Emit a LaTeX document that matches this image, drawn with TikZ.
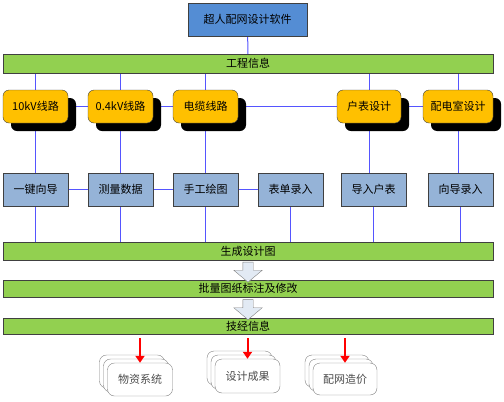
\documentclass[tikz,border=0pt]{standalone}
\usepackage{fontspec}
\newfontfamily\zhfont{Noto Sans CJK SC}
\usetikzlibrary{shapes.arrows, shadows, backgrounds, calc, arrows.meta}
\definecolor{topblue}{RGB}{84,141,212}
\definecolor{barg}{RGB}{146,208,80}
\definecolor{ylw}{RGB}{255,192,0}
\definecolor{lblue}{RGB}{149,179,215}
\definecolor{wire}{RGB}{85,85,255}
\definecolor{edgegray}{RGB}{64,64,64}
\definecolor{arrowfill}{RGB}{226,234,244}

\begin{document}
\begin{tikzpicture}[x=1pt,y=-1pt,
  every node/.style={font=\zhfont\fontsize{11}{13}\selectfont, inner sep=0pt},
  bar/.style={draw=edgegray, fill=barg, minimum width=490pt, minimum height=18pt},
  yel/.style={draw=edgegray, fill=ylw, rounded corners=6pt, minimum width=65pt, minimum height=33pt,
    general shadow={fill=black, shadow xshift=8pt, shadow yshift=-8pt}},
  blu/.style={draw=edgegray, fill=lblue, minimum width=65pt, minimum height=33pt},
  res/.style={draw=gray, fill=white, rounded corners=7pt, minimum width=65pt, minimum height=33pt,
    text=black!70, double copy shadow={shadow xshift=-4pt, shadow yshift=4pt}},
  link/.style={draw=wire, line width=1pt},
  down/.style={single arrow, shape border rotate=270, draw=gray, fill=arrowfill,
    minimum height=20pt, inner sep=5pt, single arrow head extend=9pt, single arrow tip angle=100},
  hit/.style={draw=red, line width=2pt, -{Triangle[width=9pt,length=7pt]}}
]
\useasboundingbox (0,0) rectangle (504,402);

\node[draw=edgegray, fill=topblue, minimum width=119pt, minimum height=33pt] (sw) at (247.5,19.5) {超人配网设计软件};
\node[bar, minimum height=19pt] (info) at (248,63.5) {工程信息};

% line types
\node[yel] (y1) at (35.5,106.5) {10kV线路};
\node[yel] (y2) at (120.5,106.5) {0.4kV线路};
\node[yel] (y3) at (205.5,106.5) {电缆线路};
\node[yel, minimum width=64pt] (y4) at (369,106.5) {户表设计};
\node[yel, minimum width=70pt] (y5) at (458,106.5) {配电室设计};

% input modes
\node[blu] (b1) at (35.5,189.5) {一键向导};
\node[blu] (b2) at (120.5,189.5) {测量数据};
\node[blu] (b3) at (205.5,189.5) {手工绘图};
\node[blu] (b4) at (290.5,189.5) {表单录入};
\node[blu] (b5) at (373.5,189.5) {导入户表};
\node[blu] (b6) at (460.5,189.5) {向导录入};

\node[bar] (gen) at (248,251) {生成设计图};
\node[bar, minimum height=17pt] (mark) at (248,288.5) {批量图纸标注及修改};
\node[bar, minimum height=16pt] (tech) at (248,326) {技经信息};

\node[down] (d1) at ($(gen.south)!0.5!(mark.north)$) {};
\node[down] (d2) at ($(mark.south)!0.5!(tech.north)$) {};

\node[res] (m1) at (140,379.5) {物资系统};
\node[res, minimum height=34pt] (m2) at (247.5,376) {设计成果};
\node[res, minimum width=64pt, minimum height=32pt] (m3) at (345,379) {配网造价};

\coordinate (r1) at ($(m1.north |- tech.south)+(0,4)$);
\coordinate (r2) at ($(m2.north |- tech.south)+(0,4)$);
\coordinate (r3) at ($(m3.north |- tech.south)+(0,4)$);
\draw[hit] (r1) -- (m1.north);
\draw[hit] (r2) -- (m2.north);
\draw[hit] (r3) -- (m3.north);

\begin{pgfonlayer}{background}
  \path[link]
    (sw) edge (info)
    (y1) edge (y5)
    (b1) edge (b4)
    (y4 |- info.south) edge (y4)
    (y4) edge (y4 |- b5.north)
    (y5 |- info.south) edge (y5)
    (y5) edge (y5 |- b6.north)
    (b4) edge (b4 |- gen.north)
    (b5) edge (b5 |- gen.north)
    (b6) edge (b6 |- gen.north);
  \foreach \i in {1,2,3}
    \path[link] (y\i |- info.south) edge (y\i) (y\i) edge (b\i) (b\i) edge (b\i |- gen.north);
\end{pgfonlayer}
\end{tikzpicture}
\end{document}
